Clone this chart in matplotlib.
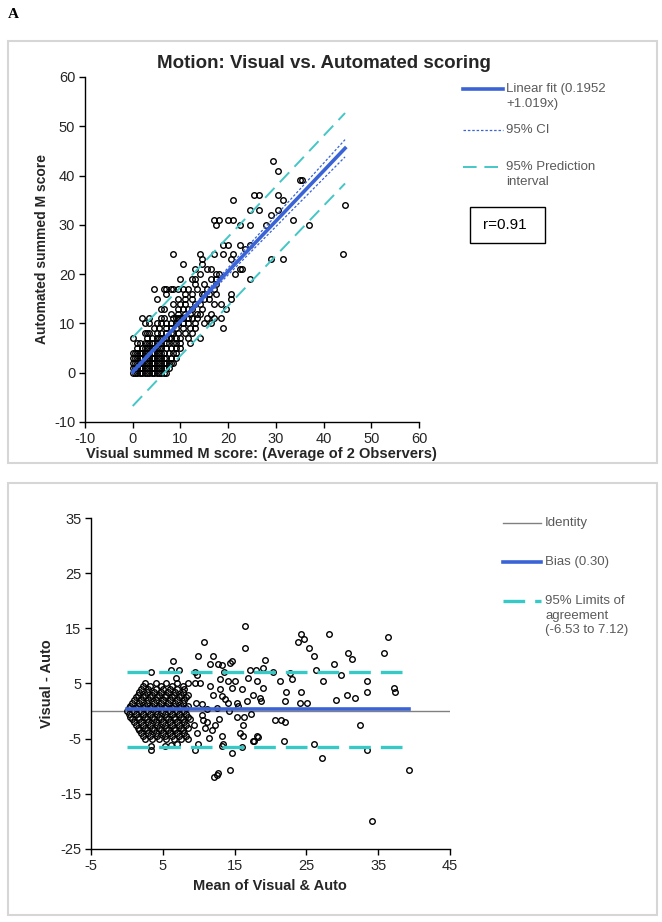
import matplotlib
matplotlib.use("Agg")
import matplotlib.pyplot as plt
import numpy as np
from matplotlib.lines import Line2D
from matplotlib.patches import Rectangle

plt.rcParams["font.family"] = ["Liberation Sans Narrow", "Liberation Sans", "DejaVu Sans"]
plt.rcParams["axes.unicode_minus"] = False

W, H = 662, 922

# ---- panel A top: visual (avg of 2 observers) vs automated summed M score
# each row: automated score -> visual scores seen at that level
auto_rows = [0, 1, 2, 3, 4, 5, 6, 7, 8, 9, 10, 11, 12, 13, 14, 15, 16, 17, 18, 19,
             20, 21, 22, 23, 24, 25, 26, 30, 31, 32, 33, 34, 35, 36, 39, 41, 43]
visual_rows = [
    [0, 0.5, 1, 1.5, 2, 2.5, 3, 3.5, 4, 4.5, 5, 5.5, 6, 6.5, 7],
    [0, 0.5, 1, 1.5, 2, 2.5, 3, 3.5, 4, 4.5, 5, 5.5, 6, 6.5, 7, 7.5],
    [0, 0.5, 1, 1.5, 2, 2.5, 3, 3.5, 4, 4.5, 5, 5.5, 6, 6.5, 7, 7.5, 8, 8.5],
    [0, 0.5, 1, 1.5, 2, 2.5, 3, 3.5, 4, 4.5, 5, 5.5, 6, 6.5, 7, 8, 9],
    [0, 0.5, 1, 1.5, 2, 2.5, 3, 3.5, 4, 4.5, 5, 5.5, 6, 6.5, 7.5, 8.5, 9],
    [1, 2, 2.5, 3, 3.5, 4, 4.5, 5, 5.5, 6, 7, 8, 9, 10],
    [1, 1.5, 2.5, 3, 3.5, 4, 5, 5.5, 6, 7, 7.5, 8.5, 9, 10, 12],
    [0, 3, 4, 5, 5.5, 6, 7, 7.5, 8, 9, 10, 11.5, 14],
    [2.5, 3, 3.5, 5, 6, 7, 8, 8.5, 9.5, 11, 12.5],
    [4.5, 5.5, 7, 8, 9, 10.5, 12, 13, 19],
    [2.5, 3.5, 5, 6, 7, 8, 9, 9.5, 10.5, 11.5, 13, 15, 16.5],
    [2, 3.5, 6, 6.5, 8.5, 9, 9.5, 10, 10.5, 11.5, 12.5, 13.5, 15.5, 17, 18.5],
    [8, 9.5, 11, 12, 13.5, 14, 16.5],
    [6, 6.5, 9.5, 10.5, 11.5, 12.5, 14.5, 19.5],
    [8.5, 10, 11, 13, 14, 17, 18.5],
    [5, 9.5, 11, 12.5, 15, 16, 20.5],
    [7, 11, 12.5, 14.5, 15, 16, 17.5, 20.5],
    [4.5, 6.5, 7, 8, 8.5, 9.5, 10.5, 11.5, 13.5, 15.5, 17],
    [13, 15, 17.5],
    [10, 12.5, 13, 16.5, 17.5, 24.5],
    [14, 17.5, 18, 21.5],
    [13, 15.5, 16.5, 22.5, 23],
    [10.5, 14.5],
    [14.5, 20.5, 29, 31.5],
    [8.5, 14, 17, 19, 21, 44],
    [23.5],
    [19, 20, 22.5, 24.5],
    [17.5, 22.5, 24.5, 28, 37],
    [17, 18, 20, 21, 33.5],
    [29],
    [24.5, 26.5, 30.5],
    [44.5],
    [21, 31.5],
    [25.5, 26.5, 30.5],
    [35, 35.5],
    [30.5],
    [29.5],
]

fit_intercept = 0.1952
fit_slope = 1.019
band_x = [0, 5, 10, 15, 20, 25, 30, 35, 40, 44.5]
ci_half = [0.45, 0.36, 0.40, 0.55, 0.72, 0.92, 1.12, 1.33, 1.55, 1.75]
pi_half = [6.95, 6.95, 6.95, 6.96, 6.98, 7.00, 7.03, 7.06, 7.10, 7.14]
r_value = "r=0.91"

# ---- panel B: Bland-Altman; dense cluster as rows by difference (visual - auto)
diff_rows = [0, 0.5, -0.5, 1, -1, 1.5, -1.5, 2, -2, 2.5, -2.5, 3, -3, 3.5, -3.5,
             4, -4, 4.5, -4.5, 5, -5]
mean_rows = [
    [0, 1, 2, 3, 4, 5, 6, 7, 8],
    [0.25, 1.25, 2.25, 3.25, 4.25, 5.25, 6.25, 7.25, 8.25],
    [0.25, 1.25, 2.25, 3.25, 4.25, 5.25, 6.25, 7.25, 8.25],
    [0.5, 1.5, 2.5, 3.5, 4.5, 5.5, 6.5, 7.5, 8.5],
    [0.5, 1.5, 2.5, 3.5, 4.5, 5.5, 6.5, 7.5, 8.5],
    [0.75, 1.75, 2.75, 3.75, 4.75, 5.75, 6.75, 7.75],
    [0.75, 1.75, 2.75, 3.75, 4.75, 5.75, 6.75, 7.75, 8.75],
    [1, 2, 3, 4, 5, 6, 7, 8],
    [1, 2, 3, 4, 5, 6, 7, 8],
    [1.25, 2.25, 3.25, 4.25, 5.25, 6.25, 7.25, 8.25],
    [1.25, 2.25, 3.25, 4.25, 5.25, 6.25, 7.25, 8.25],
    [1.5, 2.5, 3.5, 4.5, 5.5, 6.5, 7.5, 8.5],
    [1.5, 2.5, 3.5, 4.5, 5.5, 6.5, 7.5, 8.5],
    [1.75, 2.75, 3.75, 4.75, 5.75, 6.75, 7.75],
    [1.75, 2.75, 3.75, 4.75, 5.75, 6.75, 7.75],
    [2, 3, 4, 5, 6, 7, 8],
    [2, 3, 4, 5, 6, 7, 8],
    [2.25, 3.25, 4.75, 6.25, 7.75],
    [2.25, 3.25, 4.25, 5.25, 6.25, 7.25, 8.25],
    [2.5, 4, 5.5, 7],
    [2.5, 3.5, 4.5, 5.5, 6.5, 7.5, 8.5],
]
# remaining points of panel B as (mean, difference)
ba_extra = [
    (16.4, 15.5), (16.4, 11.4), (10.7, 12.5), (9.9, 10.0), (12.0, 10.0), (14.6, 9.0),
    (19.2, 9.3), (6.4, 9.0), (11.6, 8.5), (12.7, 8.5), (3.4, 7.1), (6.2, 7.4),
    (7.3, 7.4), (9.5, 7.1), (9.8, 6.6), (13.5, 7.1), (17.1, 7.5), (18.0, 7.5),
    (18.9, 7.8), (20.3, 7.1), (6.9, 6.0), (24.2, 13.9), (24.6, 13.1), (23.8, 12.5),
    (25.3, 11.4), (26.1, 10.0), (28.1, 13.9), (36.3, 13.5), (35.8, 10.5), (30.8, 10.5),
    (31.3, 9.5), (28.8, 8.5), (26.4, 7.4), (22.7, 6.9), (23.0, 5.9), (29.8, 6.5),
    (21.3, 5.5), (27.3, 5.5), (33.4, 5.5), (13.0, 5.8), (14.1, 5.4), (15.0, 5.4),
    (16.9, 6.0), (18.1, 5.4), (13.3, 8.4), (14.4, 8.8),
    (8.5, 5.0), (9.5, 5.0), (10.2, 5.1), (11.6, 4.5), (13.0, 4.0), (14.6, 4.2),
    (16.0, 4.0), (19.0, 4.2), (12.0, 3.0), (13.2, 2.7), (14.1, 1.5), (15.3, 1.5),
    (16.7, 1.9), (17.6, 3.0), (18.5, 2.4), (18.7, 1.9), (15.5, 0.9), (10.5, 1.2),
    (11.1, 0.4), (10.4, -0.7), (10.6, -1.6), (11.1, -1.9), (10.9, -3.1), (11.8, -3.4),
    (12.3, -2.5), (15.3, -1.0), (16.3, -1.0), (16.2, -2.5), (11.5, -4.9), (13.3, -4.6),
    (15.8, -4.0), (16.2, -4.6), (17.6, -5.4), (18.1, -4.6), (20.6, -1.6), (21.5, -1.6),
    (22.0, -1.9), (22.2, 3.5), (24.2, 3.5), (37.2, 4.1), (37.4, 3.5), (33.4, 3.5),
    (30.6, 2.9), (31.8, 2.4), (29.1, 2.0), (22.0, 1.9), (24.1, 1.5), (25.1, 1.5),
    (14.2, 0.0), (17.3, -0.5), (32.4, -2.5), (9.6, 1.5), (12.5, 0.5), (13.6, 2.2),
    (9.3, -2.5), (9.8, -4.0), (12.8, -1.5),
    (3.4, -6.4), (3.4, -7.0), (5.3, -6.4), (9.5, -7.0), (13.2, -6.4), (16.1, -6.5),
    (14.7, -7.6), (13.4, -6.0), (21.9, -5.5), (26.1, -6.0), (27.2, -8.5), (33.5, -7.0),
    (39.3, -10.6), (34.1, -20.0), (12.1, -11.9), (12.7, -11.3), (12.5, -11.6),
    (14.3, -10.6), (17.7, -5.5), (18.3, -4.7), (6.2, -6.1), (7.0, -6.0), (9.9, -6.0),
]
bias = 0.30
loa_low = -6.53
loa_high = 7.12

# -------------------------------------------------------------------------
fit_blue = "#3a63d6"
cyan = "#45c6c6"
loa_cyan = "#36c9c6"
legend_grey = "#5a5a5a"
label_dark = "#262626"


def fx(px):
    return px / W


def fy(py):
    return 1 - py / H


def style_axes(ax):
    for side in ("top", "right"):
        ax.spines[side].set_visible(False)
    for side in ("left", "bottom"):
        ax.spines[side].set_linewidth(1.0)
    ax.tick_params(direction="out", length=4, width=1.0, labelsize=10.5, pad=3,
                   labelcolor=label_dark)


fig = plt.figure(figsize=(W / 100, H / 100), dpi=100)

# panel frames
fig.add_artist(Rectangle((fx(8), fy(463)), fx(649), 422 / H, transform=fig.transFigure,
                         fill=False, edgecolor="#d6d6d6", linewidth=1.5))
fig.add_artist(Rectangle((fx(8), fy(915)), fx(649), 432 / H, transform=fig.transFigure,
                         fill=False, edgecolor="#d6d6d6", linewidth=1.5))
fig.text(fx(8), fy(14), "A", family="Liberation Serif", fontweight="bold",
         fontsize=11, va="center", ha="left")

# ---- top scatter
ax1 = fig.add_axes([fx(85), fy(422), 334 / W, 345 / H])
vis = [v for row, a in zip(visual_rows, auto_rows) for v in row]
aut = [a for row, a in zip(visual_rows, auto_rows) for v in row]
ax1.plot(vis, aut, "o", mfc="none", mec="black", ms=4.0, mew=1.0, zorder=2)

bx = np.array(band_x)
fit = fit_intercept + fit_slope * bx
ax1.plot(bx, fit + np.array(pi_half), color=cyan, lw=1.4, dashes=(7, 4), zorder=3)
ax1.plot(bx, fit - np.array(pi_half), color=cyan, lw=1.4, dashes=(7, 4), zorder=3)
ax1.plot(bx, fit, color=fit_blue, lw=2.6, zorder=4)
ax1.plot(bx, fit + np.array(ci_half), color=fit_blue, lw=0.9, dashes=(2, 1.5), zorder=4)
ax1.plot(bx, fit - np.array(ci_half), color=fit_blue, lw=0.9, dashes=(2, 1.5), zorder=4)

ax1.set_xlim(-10, 60)
ax1.set_ylim(-10, 60)
ax1.set_xticks(range(-10, 61, 10))
ax1.set_yticks(range(-10, 61, 10))
style_axes(ax1)

fig.text(fx(324), fy(64), "Motion: Visual vs. Automated scoring", fontsize=13.5,
         fontweight="bold", ha="center", va="center", color=label_dark)
fig.text(fx(261), fy(454), "Visual summed M score: (Average of 2 Observers)",
         fontsize=10.5, fontweight="bold", ha="center", va="center", color=label_dark)
fig.text(fx(42), fy(249), "Automated summed M score", fontsize=10, fontweight="bold",
         rotation=90, ha="center", va="center", color=label_dark)

# top legend
fig.add_artist(Line2D([fx(463), fx(503)], [fy(89), fy(89)], color=fit_blue, lw=2.6))
fig.add_artist(Line2D([fx(463), fx(503)], [fy(130), fy(130)], color=fit_blue, lw=0.9,
                      dashes=(2, 1.5)))
fig.add_artist(Line2D([fx(463), fx(503)], [fy(167), fy(167)], color=cyan, lw=1.4,
                      dashes=(7, 4)))
for txt, py in [("Linear fit (0.1952", 89), ("+1.019x)", 104), ("95% CI", 130),
                ("95% Prediction", 167), ("interval", 182)]:
    fig.text(fx(506), fy(py), txt, fontsize=9.5, color=legend_grey, ha="left", va="center")
fig.add_artist(Rectangle((fx(470), fy(243)), 75 / W, 36 / H, transform=fig.transFigure,
                         fill=False, edgecolor="black", linewidth=1.0))
fig.text(fx(483), fy(225), r_value, fontsize=11, family="Liberation Sans", ha="left",
         va="center")

# ---- bottom Bland-Altman
ax2 = fig.add_axes([fx(91), fy(849), 359 / W, 331 / H])
ba_mean = [m for row in mean_rows for m in row] + [p[0] for p in ba_extra]
ba_diff = [d for row, d in zip(mean_rows, diff_rows) for m in row] + [p[1] for p in ba_extra]
ax2.axhline(0, color="#808080", lw=1.0, zorder=1)
ax2.plot(ba_mean, ba_diff, "o", mfc="none", mec="black", ms=4.0, mew=1.0, zorder=2)
xr = [min(ba_mean), max(ba_mean)]
ax2.plot(xr, [bias, bias], color=fit_blue, lw=2.6, zorder=3)
ax2.plot([0, 38.4], [loa_high, loa_high], color=loa_cyan, lw=2.4, dashes=(6.5, 3), zorder=3)
ax2.plot([0, 38.4], [loa_low, loa_low], color=loa_cyan, lw=2.4, dashes=(6.5, 3), zorder=3)
ax2.set_xlim(-5, 45)
ax2.set_ylim(-25, 35)
ax2.set_xticks(range(-5, 46, 10))
ax2.set_yticks(range(-25, 36, 10))
style_axes(ax2)

fig.text(fx(270), fy(886), "Mean of Visual & Auto", fontsize=10.5, fontweight="bold",
         ha="center", va="center", color=label_dark)
fig.text(fx(47), fy(684), "Visual - Auto", fontsize=10.5, fontweight="bold", rotation=90,
         ha="center", va="center", color=label_dark)

fig.add_artist(Line2D([fx(503), fx(541)], [fy(523), fy(523)], color="#808080", lw=1.0))
fig.add_artist(Line2D([fx(503), fx(541)], [fy(562), fy(562)], color=fit_blue, lw=2.6))
fig.add_artist(Line2D([fx(503), fx(541)], [fy(601), fy(601)], color=loa_cyan, lw=2.4,
                      dashes=(6.5, 3)))
for txt, py in [("Identity", 523), ("Bias (0.30)", 562), ("95% Limits of", 601),
                ("agreement", 616), ("(-6.53 to 7.12)", 630)]:
    fig.text(fx(545), fy(py), txt, fontsize=9.5, color=legend_grey, ha="left", va="center")

fig.savefig("out.png", dpi=100)
